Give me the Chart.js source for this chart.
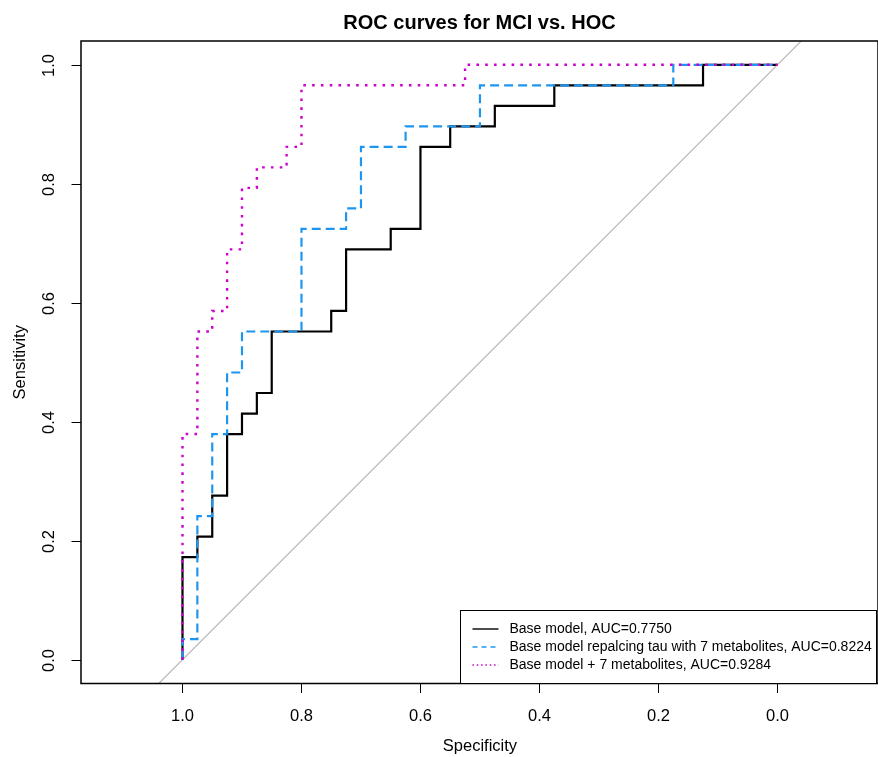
<!DOCTYPE html>
<html>
<head>
<meta charset="utf-8">
<title>ROC curves for MCI vs. HOC</title>
<script src="https://cdn.jsdelivr.net/npm/chart.js@4.4.1/dist/chart.umd.min.js"></script>
<style>
    html, body { margin: 0; padding: 0; background: #fff; }
    canvas { display: block; }
</style>
</head>
<body>
<canvas id="rocChart" width="878" height="757" style="width:878px;height:757px"></canvas>
<script>
// ROC corner points (x = specificity, y = sensitivity)
const baseSpec = [1, 1, 0.975, 0.975, 0.95, 0.95, 0.925, 0.925, 0.9, 0.9, 0.875, 0.875, 0.85, 0.85,
    0.75, 0.75, 0.725, 0.725, 0.65, 0.65, 0.6, 0.6, 0.55, 0.55, 0.475, 0.475, 0.375, 0.375, 0.125, 0.125, 0];
const baseSens = [0, 0.1724, 0.1724, 0.2069, 0.2069, 0.2759, 0.2759, 0.3793, 0.3793, 0.4138, 0.4138, 0.4483, 0.4483, 0.5517,
    0.5517, 0.5862, 0.5862, 0.6897, 0.6897, 0.7241, 0.7241, 0.8621, 0.8621, 0.8966, 0.8966, 0.9310, 0.9310, 0.9655, 0.9655, 1, 1];

const tauSpec = [1, 1, 0.975, 0.975, 0.95, 0.95, 0.925, 0.925, 0.9, 0.9, 0.8, 0.8,
    0.725, 0.725, 0.7, 0.7, 0.625, 0.625, 0.5, 0.5, 0.175, 0.175, 0];
const tauSens = [0, 0.0345, 0.0345, 0.2414, 0.2414, 0.3793, 0.3793, 0.4828, 0.4828, 0.5517, 0.5517, 0.7241,
    0.7241, 0.7586, 0.7586, 0.8621, 0.8621, 0.8966, 0.8966, 0.9655, 0.9655, 1, 1];

const metSpec = [1, 1, 0.975, 0.975, 0.95, 0.95, 0.925, 0.925, 0.9, 0.9, 0.875, 0.875,
    0.825, 0.825, 0.8, 0.8, 0.525, 0.525, 0];
const metSens = [0, 0.3793, 0.3793, 0.5517, 0.5517, 0.5862, 0.5862, 0.6897, 0.6897, 0.7931, 0.7931, 0.8276,
    0.8276, 0.8621, 0.8621, 0.9655, 0.9655, 1, 1];

// chance line (sens = 1 - spec), clipped by the plot area
const refSpec = [1.2, -0.2];
const refSens = [-0.2, 1.2];

const xTicks = [1.0, 0.8, 0.6, 0.4, 0.2, 0.0];
const yTicks = [0.0, 0.2, 0.4, 0.6, 0.8, 1.0];

const seriesLabels = [
    'Base model, AUC=0.7750',
    'Base model repalcing tau with 7 metabolites, AUC=0.8224',
    'Base model + 7 metabolites, AUC=0.9284'
];

// styles
const FONT = '"Liberation Sans", Arial, sans-serif';
const colors = { base: '#000000', tau: '#1E96F0', met: '#CD00CD', ref: '#B8B8B8' };

function toPoints(xs, ys) {
    return xs.map((x, i) => ({ x: x, y: ys[i] }));
}

// R-style frame, axes, titles and legend
const rFrame = {
    id: 'rFrame',
    afterDraw(chart) {
        const { ctx, chartArea: a, scales: { x, y } } = chart;
        ctx.save();
        ctx.strokeStyle = '#000';
        ctx.fillStyle = '#000';

        // box
        ctx.lineWidth = 1.5;
        ctx.strokeRect(a.left, a.top, a.right - a.left, a.bottom - a.top);

        // x axis ticks + labels
        ctx.lineWidth = 1;
        ctx.font = '16.5px ' + FONT;
        ctx.textAlign = 'center';
        ctx.textBaseline = 'alphabetic';
        xTicks.forEach(v => {
            const px = Math.round(x.getPixelForValue(v)) + 0.5;
            ctx.beginPath();
            ctx.moveTo(px, a.bottom);
            ctx.lineTo(px, a.bottom + 9.5);
            ctx.stroke();
            ctx.fillText(v.toFixed(1), px, 721);
        });

        // y axis ticks + rotated labels
        yTicks.forEach(v => {
            const py = Math.round(y.getPixelForValue(v)) + 0.5;
            ctx.beginPath();
            ctx.moveTo(a.left - 9.5, py);
            ctx.lineTo(a.left, py);
            ctx.stroke();
            ctx.save();
            ctx.translate(54, py);
            ctx.rotate(-Math.PI / 2);
            ctx.fillText(v.toFixed(1), 0, 0);
            ctx.restore();
        });

        // axis titles
        ctx.fillText('Specificity', x.getPixelForValue(0.5), 751);
        ctx.save();
        ctx.translate(25, y.getPixelForValue(0.5));
        ctx.rotate(-Math.PI / 2);
        ctx.fillText('Sensitivity', 0, 0);
        ctx.restore();

        // main title
        ctx.font = 'bold 20px ' + FONT;
        ctx.fillText('ROC curves for MCI vs. HOC', (a.left + a.right) / 2, 29);

        // legend (bottom right)
        const lx = 460.5, ly = 610.5, lr = 876.5;
        ctx.fillStyle = '#fff';
        ctx.fillRect(lx, ly, lr - lx, a.bottom - ly);
        ctx.strokeStyle = '#000';
        ctx.lineWidth = 1;
        ctx.strokeRect(lx, ly, lr - lx, a.bottom - ly);

        const legendStyles = [
            { color: colors.base, dash: [] },
            { color: colors.tau, dash: [5, 4] },
            { color: colors.met, dash: [1.5, 2.8] }
        ];
        ctx.font = '14px ' + FONT;
        ctx.textAlign = 'left';
        ctx.textBaseline = 'middle';
        ctx.lineWidth = 1.4;
        seriesLabels.forEach((label, i) => {
            const rowY = 629 + i * 18;
            ctx.strokeStyle = legendStyles[i].color;
            ctx.setLineDash(legendStyles[i].dash);
            ctx.beginPath();
            ctx.moveTo(472.5, rowY);
            ctx.lineTo(498.5, rowY);
            ctx.stroke();
            ctx.setLineDash([]);
            ctx.fillStyle = '#000';
            ctx.fillText(label, 509.5, rowY);
        });

        ctx.restore();
    }
};

const rocChart = new Chart(document.getElementById('rocChart'), {
    type: 'scatter',
    data: {
        datasets: [{
            label: 'chance',
            data: toPoints(refSpec, refSens),
            showLine: true,
            borderColor: colors.ref,
            borderWidth: 1.2,
            pointRadius: 0,
            order: 4
        }, {
            label: seriesLabels[0],
            data: toPoints(baseSpec, baseSens),
            showLine: true,
            borderColor: colors.base,
            borderWidth: 2.2,
            borderJoinStyle: 'miter',
            pointRadius: 0,
            order: 3
        }, {
            label: seriesLabels[1],
            data: toPoints(tauSpec, tauSens),
            showLine: true,
            borderColor: colors.tau,
            borderWidth: 2.2,
            borderDash: [9, 5],
            pointRadius: 0,
            order: 2
        }, {
            label: seriesLabels[2],
            data: toPoints(metSpec, metSens),
            showLine: true,
            borderColor: colors.met,
            borderWidth: 2.4,
            borderDash: [2.6, 6.2],
            pointRadius: 0,
            order: 1
        }]
    },
    options: {
        responsive: false,
        animation: false,
        devicePixelRatio: 1,
        events: [],
        layout: {
            padding: { left: 81, top: 41, right: 0, bottom: 73.5 }
        },
        scales: {
            x: {
                type: 'linear',
                display: false,
                reverse: true,
                min: -0.1691,
                max: 1.1706
            },
            y: {
                type: 'linear',
                display: false,
                min: -0.04,
                max: 1.04
            }
        },
        plugins: {
            legend: { display: false },
            tooltip: { enabled: false },
            title: { display: false }
        }
    },
    plugins: [rFrame]
});
</script>
</body>
</html>
